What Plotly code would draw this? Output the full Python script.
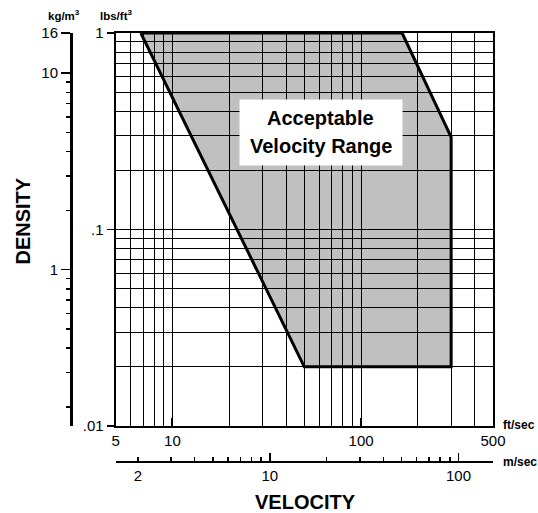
import numpy as np
import plotly.graph_objects as go

# ---- data ----
# acceptable-range polygon (velocity ft/sec, density lbs/ft^3)
region_velocity_fts = [6.8, 165, 300, 300, 50, 6.8]
region_density_lbft3 = [1.0, 1.0, 0.295, 0.02, 0.02, 1.0]

# axis ticks
ft_major = [5, 10, 100, 500]
ft_major_text = ["5", "10", "100", "500"]
ft_minor = [6, 7, 8, 9, 20, 30, 40, 50, 60, 70, 80, 90, 200, 300, 400]

lb_major = [0.01, 0.1, 1]
lb_major_text = [".01", ".1", "1"]
lb_minor = [0.02, 0.03, 0.04, 0.05, 0.06, 0.07, 0.08, 0.09,
            0.2, 0.3, 0.4, 0.5, 0.6, 0.7, 0.8, 0.9]

kg_major = [1, 10, 16]
kg_major_text = ["1", "10", "16"]
kg_minor = [0.2, 0.3, 0.4, 0.5, 0.6, 0.7, 0.8, 0.9, 2, 3, 4, 5, 6, 7, 8, 9]

ms_major = [2, 10, 100]
ms_major_text = ["2", "10", "100"]
ms_minor = [3, 4, 5, 6, 7, 8, 9, 20, 30, 40, 50, 60, 70, 80, 90]
ms_long = [10, 100]

FT_PER_M = 3.28084
KG_PER_LB_FT3 = 16.018
x_lim = [5, 500]
y_lim = [0.01, 1]

label_pos = (61, 0.313)

FONT = "Liberation Sans, Arial, Helvetica, sans-serif"
OFF = 0  # page body margin (removed by post_script)
W, H = 538, 513
ML, MR, MT, MB = 20, 45, 33, 43
PW, PH = W - ML - MR, H - MT - MB


def px(xp):
    """page pixel x -> paper"""
    return (xp - OFF - ML) / PW


def py(yp):
    """page pixel y -> paper"""
    return (H - MB - (yp - OFF)) / PH


xdom = [px(115.6), 1]
ydom = [py(426), 1]

fig = go.Figure()
fig.add_trace(go.Scatter(
    x=region_velocity_fts, y=region_density_lbft3, mode="lines",
    fill="toself", fillcolor="rgba(0,0,0,0.247)",
    line=dict(color="black", width=3), hoverinfo="skip", showlegend=False))
# invisible anchors for secondary axes
fig.add_trace(go.Scatter(x=[10], y=[1], xaxis="x", yaxis="y2", mode="markers",
                         marker=dict(opacity=0), hoverinfo="skip", showlegend=False))
fig.add_trace(go.Scatter(x=[10], y=[0.1], xaxis="x2", yaxis="y", mode="markers",
                         marker=dict(opacity=0), hoverinfo="skip", showlegend=False))
fig.add_trace(go.Scatter(x=[10], y=[0.1], xaxis="x3", yaxis="y", mode="markers",
                         marker=dict(opacity=0), hoverinfo="skip", showlegend=False))

tickfont = dict(family=FONT, size=15, color="black")

fig.update_layout(
    width=W, height=H, margin=dict(l=ML, r=MR, t=MT, b=MB),
    paper_bgcolor="white", plot_bgcolor="white", showlegend=False,
    xaxis=dict(type="log", range=[np.log10(x_lim[0]), np.log10(x_lim[1])],
               domain=xdom, anchor="y", showline=True, linecolor="black",
               linewidth=2, mirror=True,
               tickmode="array", tickvals=ft_major, ticktext=ft_major_text,
               ticks="inside", ticklen=8, tickwidth=2, tickcolor="black",
               tickfont=tickfont, showgrid=True, gridcolor="black", gridwidth=1,
               minor=dict(tickmode="array", tickvals=ft_minor, showgrid=True,
                          gridcolor="black", gridwidth=1, ticks=""),
               zeroline=False, fixedrange=True),
    yaxis=dict(type="log", range=[np.log10(y_lim[0]), np.log10(y_lim[1])],
               domain=ydom, anchor="x", showline=True, linecolor="black",
               linewidth=2, mirror=True,
               tickmode="array", tickvals=lb_major, ticktext=lb_major_text,
               ticks="outside", ticklen=7, tickwidth=1.5, tickcolor="black",
               tickfont=tickfont, showgrid=True, gridcolor="black", gridwidth=1,
               minor=dict(tickmode="array", tickvals=lb_minor, showgrid=True,
                          gridcolor="black", gridwidth=1, ticks=""),
               zeroline=False, fixedrange=True),
    yaxis2=dict(type="log",
                range=[np.log10(y_lim[0] * KG_PER_LB_FT3), np.log10(y_lim[1] * KG_PER_LB_FT3)],
                domain=ydom, overlaying="y", anchor="free", position=px(71),
                side="left", showline=True, linecolor="black", linewidth=2.5,
                tickmode="array", tickvals=kg_major, ticktext=kg_major_text,
                ticks="outside", ticklen=9, tickwidth=1.5, tickcolor="black",
                tickfont=tickfont, showgrid=False,
                minor=dict(tickmode="array", tickvals=kg_minor, showgrid=False,
                           ticks="outside", ticklen=4, tickwidth=1.5, tickcolor="black"),
                zeroline=False, fixedrange=True),
    xaxis2=dict(type="log",
                range=[np.log10(x_lim[0] / FT_PER_M), np.log10(x_lim[1] / FT_PER_M)],
                domain=xdom, overlaying="x", anchor="free", position=py(461.7),
                side="bottom", showline=True, linecolor="black", linewidth=2.5,
                tickmode="array", tickvals=ms_major, ticktext=ms_major_text,
                ticks="inside", ticklen=4, tickwidth=1.5, tickcolor="black",
                tickfont=tickfont, showgrid=False,
                minor=dict(tickmode="array", tickvals=ms_minor, showgrid=False,
                           ticks="inside", ticklen=4, tickwidth=1.5, tickcolor="black"),
                zeroline=False, fixedrange=True),
    xaxis3=dict(type="log",
                range=[np.log10(x_lim[0] / FT_PER_M), np.log10(x_lim[1] / FT_PER_M)],
                domain=xdom, overlaying="x", anchor="free", position=py(461.7),
                side="bottom", showline=False,
                tickmode="array", tickvals=ms_long, showticklabels=False,
                ticks="inside", ticklen=9, tickwidth=1.5, tickcolor="black",
                showgrid=False, zeroline=False, fixedrange=True),
)

ann = []
# label box background and text
lx, ly = np.log10(label_pos[0]), np.log10(label_pos[1])
ann.append(dict(x=lx, y=ly, xref="x", yref="y", xanchor="center", yanchor="middle",
                text=" ", showarrow=False, bgcolor="white", width=162, height=65,
                borderpad=0, font=dict(family=FONT, size=20)))
ann.append(dict(x=lx, y=ly, xref="x", yref="y", xanchor="center", yanchor="middle",
                yshift=14, text="<b>Acceptable</b>", showarrow=False,
                font=dict(family=FONT, size=20, color="black")))
ann.append(dict(x=lx, y=ly, xref="x", yref="y", xanchor="center", yanchor="middle",
                yshift=-14, text="<b>Velocity Range</b>", showarrow=False,
                font=dict(family=FONT, size=20, color="black")))


def paper_text(x, y, text, size, xanchor="center", angle=0):
    return dict(x=px(x), y=py(y), xref="paper", yref="paper", text=text,
                xanchor=xanchor, yanchor="middle", textangle=angle, showarrow=False,
                font=dict(family=FONT, size=size, color="black"))


ann.append(paper_text(64, 15, "<b>kg/m<sup>3</sup></b>", 11.5))
ann.append(paper_text(115.5, 15, "<b>lbs/ft<sup>3</sup></b>", 11.5))
ann.append(paper_text(501, 425, "<b>ft/sec</b>", 12, xanchor="left"))
ann.append(paper_text(501, 461.7, "<b>m/sec</b>", 12, xanchor="left"))
ann.append(paper_text(305, 502, "<b>VELOCITY</b>", 20))
ann.append(paper_text(22.5, 221, "<b>DENSITY</b>", 20, angle=-90))
fig.update_layout(annotations=ann)

fig.write_html(
    "out.html",
    config={"displayModeBar": False, "staticPlot": True},
    post_script="document.body.style.margin='0';"
                "document.body.style.padding='0';"
                "document.documentElement.style.overflow='hidden';",
)
